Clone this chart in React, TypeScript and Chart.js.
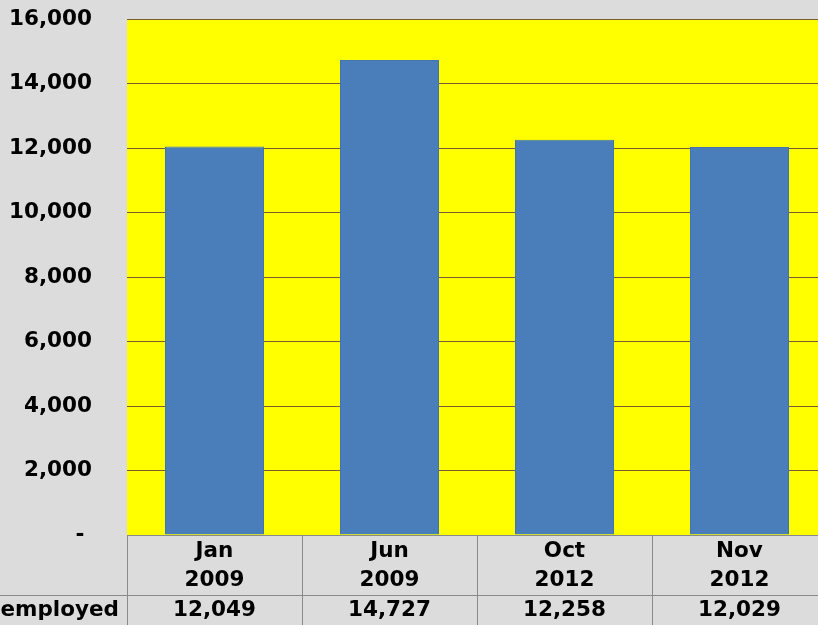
import React, { useEffect, useRef } from "react";
import { Chart, registerables } from "chart.js";

Chart.register(...registerables);

const categories: string[][] = [["Jan", "2009"], ["Jun", "2009"], ["Oct", "2012"], ["Nov", "2012"]];
const employed: number[] = [12049, 14727, 12258, 12029];
const seriesLabel = "employed";
const yTicks: number[] = [0, 2000, 4000, 6000, 8000, 10000, 12000, 14000, 16000];

const FONT = "'DejaVu Sans', Verdana, sans-serif";
const fmt = (v: number) => v.toLocaleString("en-US");

const tablePlugin = {
  id: "tablePlugin",
  beforeDraw(chart: any) {
    const { ctx, chartArea } = chart;
    ctx.save();
    ctx.fillStyle = "#ffff00";
    ctx.fillRect(chartArea.left, chartArea.top, chartArea.right - chartArea.left, chartArea.bottom - chartArea.top);
    ctx.restore();
  },
  afterDraw(chart: any) {
    const { ctx, chartArea, width, height } = chart;
    const xs = chart.scales.x;
    const step = xs.getPixelForValue(1) - xs.getPixelForValue(0);
    const half = step / 2;
    const top = chartArea.bottom;
    const rowDiv = top + 60;
    ctx.save();
    ctx.strokeStyle = "#8a8a8a";
    ctx.lineWidth = 1;
    ctx.beginPath();
    ctx.moveTo(chartArea.left, top + 0.5);
    ctx.lineTo(chartArea.right, top + 0.5);
    ctx.moveTo(0, rowDiv + 0.5);
    ctx.lineTo(width, rowDiv + 0.5);
    for (let i = 0; i <= categories.length; i++) {
      const x = Math.round(xs.getPixelForValue(i) - half) + 0.5;
      ctx.moveTo(x, top);
      ctx.lineTo(x, height);
    }
    ctx.stroke();

    ctx.fillStyle = "#000";
    ctx.font = `bold 21.5px ${FONT}`;
    ctx.textBaseline = "middle";
    ctx.textAlign = "center";
    categories.forEach((lines, i) => {
      const x = xs.getPixelForValue(i);
      ctx.fillText(lines[0], x, top + 16.5);
      ctx.fillText(lines[1], x, top + 45);
      ctx.fillText(fmt(employed[i]), x, top + 75);
    });
    ctx.textAlign = "right";
    ctx.fillText(seriesLabel, 119, top + 75);
    ctx.restore();
  },
};

export default function App() {
  const ref = useRef<HTMLCanvasElement>(null);
  useEffect(() => {
    if (!ref.current) return;
    const chart = new Chart(ref.current, {
      type: "bar",
      data: {
        labels: categories.map((c) => c.join(" ")),
        datasets: [
          {
            label: seriesLabel,
            data: employed,
            backgroundColor: "#4a7ebb",
            borderColor: "#4274b0",
            borderWidth: 1,
            barPercentage: 0.566,
            categoryPercentage: 1,
          },
        ],
      },
      options: {
        responsive: false,
        animation: false,
        devicePixelRatio: 1,
        layout: { padding: { top: 19, right: 9, left: 0, bottom: 0 } },
        plugins: { legend: { display: false }, tooltip: { enabled: false } },
        scales: {
          x: {
            grid: { display: false },
            border: { display: false },
            ticks: { display: false },
            afterFit: (s: any) => {
              s.height = 95;
            },
          },
          y: {
            min: yTicks[0],
            max: yTicks[yTicks.length - 1],
            afterBuildTicks: (s: any) => {
              s.ticks = yTicks.map((v) => ({ value: v }));
            },
            grid: { color: "#7a5c2e", lineWidth: 1, drawTicks: false },
            border: { display: false },
            ticks: {
              padding: 35,
              color: "#000",
              font: { family: FONT, size: 21.5, weight: "bold" },
              callback: (v: any) => (Number(v) === 0 ? "- " : fmt(Number(v))),
            },
            afterFit: (s: any) => {
              s.width = 127;
              s.paddingTop = 0;
              s.paddingBottom = 0;
            },
          },
        },
      },
      plugins: [tablePlugin],
    });
    return () => chart.destroy();
  }, []);
  return (
    <div
      style={{
        position: "fixed",
        top: 0,
        left: 0,
        width: 818,
        height: 625,
        overflow: "hidden",
        background: "#dcdcdc",
      }}
    >
      <canvas ref={ref} width={836} height={630} style={{ display: "block" }} />
    </div>
  );
}
